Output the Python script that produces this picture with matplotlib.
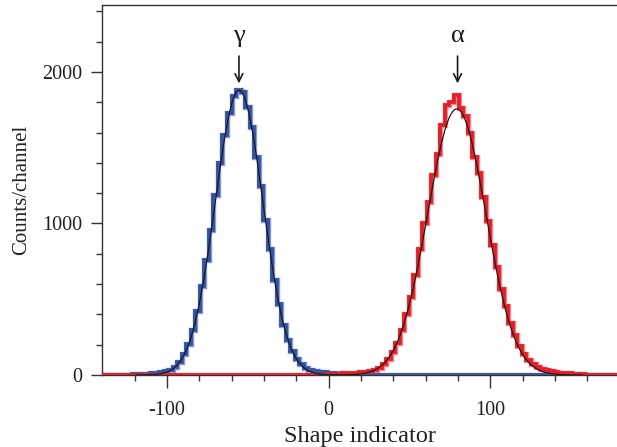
import numpy as np
import matplotlib
matplotlib.use("Agg")
import matplotlib.pyplot as plt

# ---- data ----
bin_width = 2.8
gamma_first_edge = -124.4
gamma_counts = [3, 4, 6, 7, 9, 11, 14, 18, 24, 34, 52, 86, 136, 205, 300, 425,
                585, 760, 960, 1190, 1400, 1585, 1730, 1840,
                1881, 1866, 1770, 1640, 1440, 1245, 1020, 830, 625, 470,
                330, 232, 158, 105, 70, 48, 36, 28, 22, 17, 13, 10, 7, 5, 4, 3]
alpha_first_edge = -0.8
alpha_counts = [4, 6, 8, 10, 12, 14, 15, 17, 20, 24, 32, 48, 72, 105, 150, 210,
                300, 405, 515, 660, 830, 1000, 1140, 1320, 1460, 1650, 1780, 1800,
                1847, 1760, 1712, 1600, 1440, 1330, 1175, 1015, 860, 715, 570,
                455, 345, 262, 190, 140, 100, 72, 52, 40, 31, 25, 20, 16, 13, 10,
                8, 6, 4, 3]
# Gaussian fit parameters: amplitude, mean, sigma
gamma_fit = (1878, -55.3, 14.8)
alpha_fit = (1756, 79.3, 18.0)
peak_labels = ["\u03b3", "\u03b1"]
peak_positions = [-55.4, 79.8]
x_ticks = [-100, 0, 100]
x_tick_labels = ["-100", "0", "100"]
y_ticks = [0, 1000, 2000]
y_tick_labels = ["0", "1000", "2000"]

XMIN, XMAX = -140.1, 178.4
YMAX = 2442

plt.rcParams['font.family'] = ['Liberation Serif', 'DejaVu Serif']

fig = plt.figure(figsize=(6.17, 4.47), dpi=100)
ax = fig.add_axes([102 / 617, 1 - 375 / 447, 1 - 102 / 617, 370 / 447])


def draw_hist(first_edge, counts, color, light):
    n = len(counts)
    edges = first_edge + bin_width * np.arange(n + 1)
    e = np.concatenate([[XMIN], edges, [XMAX]])
    v = np.concatenate([[0], counts, [0]])
    ax.stairs(v, e, baseline=None, color=light, lw=3.9, zorder=2)
    ax.stairs(v, e, baseline=None, color=color, lw=2.7, zorder=3)


draw_hist(gamma_first_edge, gamma_counts, '#3452a4', '#8a9dd0')
draw_hist(alpha_first_edge, alpha_counts, '#e61e28', '#f08c8f')

for amp, mu, sig in (gamma_fit, alpha_fit):
    xs = np.linspace(mu - 4.3 * sig, mu + 4.3 * sig, 600)
    ax.plot(xs, amp * np.exp(-(xs - mu) ** 2 / (2 * sig ** 2)),
            color='#1a1a1a', lw=0.9, zorder=4)

for lab, xp in zip(peak_labels, peak_positions):
    ax.annotate("", xy=(xp, 1925), xytext=(xp, 2105),
                arrowprops=dict(arrowstyle='->', color='#1a1a1a', lw=1.2,
                                mutation_scale=14, shrinkA=0, shrinkB=0))
    ax.text(xp, 2235, lab, ha='center', va='center', fontsize=19,
            color='#1a1a1a')

ax.set_xlim(XMIN, XMAX)
ax.set_ylim(0, YMAX)
ax.set_xticks(x_ticks)
ax.set_xticklabels(x_tick_labels)
ax.set_yticks(y_ticks)
ax.set_yticklabels(y_tick_labels)
ax.set_xticks(np.arange(-120, 180, 20), minor=True)
ax.set_yticks(np.arange(0, 2500, 200), minor=True)
ax.tick_params(axis='both', which='major', length=8, width=1, color='#333333',
               labelsize=14.5, labelcolor='#222222', pad=6)
ax.tick_params(axis='x', which='major', length=9, pad=10)
ax.tick_params(axis='both', which='minor', length=4, width=1, color='#333333')
ax.spines['right'].set_visible(False)
for s in ('left', 'top', 'bottom'):
    ax.spines[s].set_color('#333333')
    ax.spines[s].set_linewidth(1.0)

ax.set_xlabel("Shape indicator", fontsize=17.5, color='#222222', labelpad=4)
ax.set_ylabel("Counts/channel", fontsize=15, color='#222222', labelpad=8)

fig.savefig("out.png", dpi=100)
